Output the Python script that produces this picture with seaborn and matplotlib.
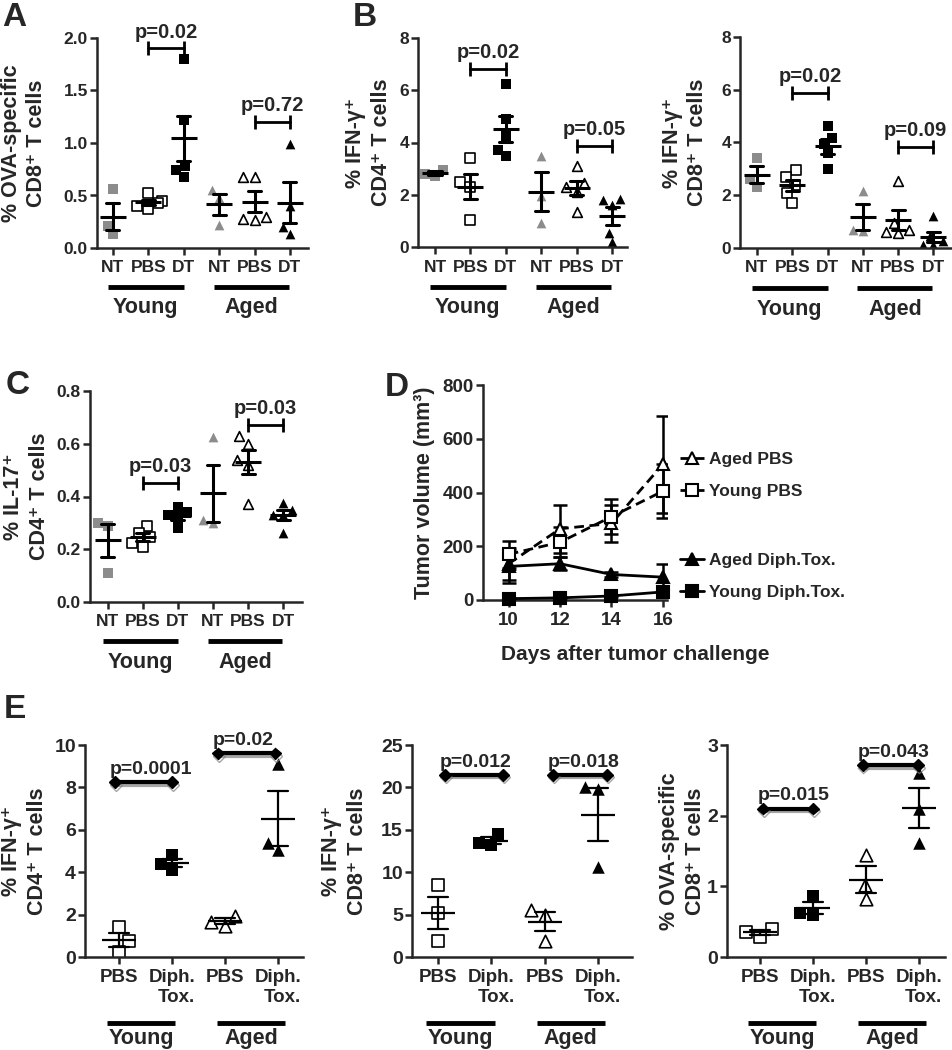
import numpy as np
import pandas as pd
import seaborn as sns
import matplotlib.pyplot as plt
import matplotlib.patheffects as pe

sns.set_style('ticks')
plt.rcParams['font.family'] = ['Liberation Sans', 'DejaVu Sans']
plt.rcParams['font.weight'] = 'bold'
plt.rcParams['axes.labelweight'] = 'bold'
plt.rcParams['axes.linewidth'] = 1.8

GRAY = '#8c8c8c'

# ---- panels A-C : NT / PBS / DT in young and aged mice
groups6 = ['Young NT', 'Young PBS', 'Young DT', 'Aged NT', 'Aged PBS', 'Aged DT']
ticks6 = ['NT', 'PBS', 'DT', 'NT', 'PBS', 'DT']
faces6 = [GRAY, 'white', 'black', GRAY, 'white', 'black']
marks6 = ['s', 's', 's', '^', '^', '^']

a_vals = [[0.56, 0.21, 0.13], [0.52, 0.45, 0.43, 0.40, 0.37], [1.80, 1.22, 0.78, 0.74, 0.68],
          [0.55, 0.48, 0.22], [0.68, 0.68, 0.30, 0.28, 0.27], [0.99, 0.40, 0.20, 0.13]]
b1_vals = [[2.95, 2.80, 2.72], [3.40, 2.50, 2.30, 1.05], [6.25, 4.90, 4.23, 3.47, 3.72],
           [3.50, 1.94, 0.92], [3.10, 2.45, 2.30, 2.10, 1.35], [1.85, 1.78, 1.60, 0.55, 0.20]]
b2_vals = [[3.40, 2.60, 2.33], [2.96, 2.71, 2.40, 2.08, 1.70], [4.62, 4.16, 3.94, 3.59, 2.98],
           [2.15, 0.70, 0.65], [2.55, 0.95, 0.70, 0.60, 0.55], [1.20, 0.45, 0.25, 0.10, 0.10]]
c_vals = [[0.30, 0.29, 0.11], [0.29, 0.26, 0.245, 0.225, 0.21], [0.36, 0.34, 0.33, 0.32, 0.28],
          [0.625, 0.31, 0.30], [0.63, 0.60, 0.54, 0.52, 0.37], [0.375, 0.35, 0.33, 0.33, 0.26]]

# ---- panel D : tumour growth (mean, SEM)
days = [10, 12, 14, 16]
d_aged_pbs = [135, 265, 285, 505]
d_aged_pbs_sem = [60, 90, 70, 180]
d_young_pbs = [170, 215, 310, 405]
d_young_pbs_sem = [50, 55, 65, 100]
d_aged_dt = [125, 135, 95, 85]
d_aged_dt_sem = [60, 25, 10, 50]
d_young_dt = [5, 8, 15, 30]
d_young_dt_sem = [3, 4, 5, 10]

# ---- panel E : PBS / Diph. Tox. in young and aged mice
groups4 = ['Young PBS', 'Young DT', 'Aged PBS', 'Aged DT']
ticks4 = ['PBS', 'Diph.\nTox.', 'PBS', 'Diph.\nTox.']
faces4 = ['white', 'black', 'white', 'black']
marks4 = ['s', 's', '^', '^']
e1_vals = [[1.40, 0.75, 0.25], [4.80, 4.40, 4.10], [1.95, 1.65, 1.45], [9.10, 5.40, 5.05]]
e2_vals = [[8.5, 5.2, 1.9], [14.5, 13.5, 13.2], [5.6, 5.0, 1.9], [20.0, 19.8, 10.6]]
e3_vals = [[0.40, 0.36, 0.29], [0.87, 0.62, 0.60], [1.45, 1.02, 0.82], [2.60, 2.10, 1.62]]


def dot_panel(ax, values, names, faces, marks, size, mean_size, cap, lw):
    df = pd.DataFrame({'group': np.repeat(names, [len(v) for v in values]),
                       'value': np.concatenate(values)})
    for name, fc, mk in zip(names, faces, marks):
        sub = df[df['group'] == name]
        sns.swarmplot(data=sub, x='group', y='value', order=names, marker=mk, color=fc,
                      edgecolor='black', linewidth=1.2 if fc == 'white' else 0,
                      size=size, ax=ax, zorder=2)
    sns.pointplot(data=df, x='group', y='value', order=names, errorbar='se', color='black',
                  linestyle='none', marker='_', markersize=mean_size, markeredgewidth=lw,
                  capsize=cap, err_kws={'linewidth': lw, 'zorder': 3}, ax=ax, zorder=3)


def style_axes(ax, ylim, yticks, xlim, ticklabels, xsize, ysize):
    ax.set_ylim(*ylim)
    ax.set_yticks(yticks)
    ax.set_xlim(*xlim)
    ax.set_xticks(range(len(ticklabels)))
    ax.set_xticklabels(ticklabels)
    ax.set_xlabel('')
    ax.tick_params(axis='both', length=5, width=1.8)
    ax.tick_params(axis='x', labelsize=xsize, pad=4)
    ax.tick_params(axis='y', labelsize=ysize, pad=1.5)
    sns.despine(ax=ax)


def bracket(ax, x1, x2, y, text):
    ax.plot([x1, x2], [y, y], color='black', lw=2, marker='|', markersize=10, mew=2)
    ax.annotate(text, ((x1 + x2) / 2, y), xytext=(0, 5), textcoords='offset points',
                ha='center', va='bottom', fontsize=14.5, annotation_clip=False)


def bracket_e(ax, x1, x2, y, text):
    ax.plot([x1, x2], [y, y], color='black', lw=3, marker='D', markersize=6, clip_on=False,
            path_effects=[pe.SimpleLineShadow(offset=(0.5, -2), shadow_color='gray', alpha=0.7),
                          pe.Normal()])
    ax.annotate(text, (x1, y), xytext=(-4, 3), textcoords='offset points',
                ha='left', va='bottom', fontsize=14, annotation_clip=False)


def group_lines(ax, spans, y_line, y_text, fs):
    trans = ax.get_xaxis_transform()
    for (a, b), lab in zip(spans, ['Young', 'Aged']):
        ax.plot([a, b], [y_line, y_line], color='black', lw=3.5, transform=trans,
                clip_on=False, solid_capstyle='butt')
        ax.text((a + b) / 2, y_text, lab, transform=trans, ha='center', va='top', fontsize=fs)


W, H = 952, 1050
fig = plt.figure(figsize=(9.52, 10.5), dpi=100)


def px_axes(left, right, top, bottom):
    return fig.add_axes([left / W, 1 - bottom / H, (right - left) / W, (bottom - top) / H])


spans6 = [(-0.15, 2.0), (2.85, 4.97)]

# A
ax = px_axes(97, 308, 38, 248)
dot_panel(ax, a_vals, groups6, faces6, marks6, 7, 19, 0.37, 2.2)
style_axes(ax, (0, 2.0), [0, 0.5, 1.0, 1.5, 2.0], (-0.45, 5.51), ticks6, 12.5, 12.5)
ax.yaxis.set_major_formatter(plt.FormatStrFormatter('%.1f'))
ax.set_ylabel('% OVA-specific\nCD8⁺ T cells', fontsize=15.5, linespacing=1.3)
ax.yaxis.set_label_coords(-0.235, 0.5)
bracket(ax, 1, 2, 1.9, 'p=0.02')
bracket(ax, 4, 5, 1.2, 'p=0.72')
group_lines(ax, spans6, -0.186, -0.235, 15.5)

# B left
ax = px_axes(418, 627, 38, 247)
dot_panel(ax, b1_vals, groups6, faces6, marks6, 7, 19, 0.37, 2.2)
style_axes(ax, (0, 8), [0, 2, 4, 6, 8], (-0.48, 5.42), ticks6, 12.5, 12.5)
ax.set_ylabel('% IFN-γ⁺\nCD4⁺ T cells', fontsize=15.5, linespacing=1.3)
ax.yaxis.set_label_coords(-0.125, 0.5)
bracket(ax, 1, 2, 6.8, 'p=0.02')
bracket(ax, 4, 5, 3.88, 'p=0.05')
group_lines(ax, spans6, -0.19, -0.24, 15.5)

# B right
ax = px_axes(740, 951, 37, 248)
dot_panel(ax, b2_vals, groups6, faces6, marks6, 7, 19, 0.37, 2.2)
style_axes(ax, (0, 8), [0, 2, 4, 6, 8], (-0.48, 5.5), ticks6, 12.5, 12.5)
ax.set_ylabel('% IFN-γ⁺\nCD8⁺ T cells', fontsize=15.5, linespacing=1.3)
ax.yaxis.set_label_coords(-0.15, 0.5)
bracket(ax, 1, 2, 5.86, 'p=0.02')
bracket(ax, 4, 5, 3.84, 'p=0.09')
group_lines(ax, spans6, -0.19, -0.24, 15.5)

# C
ax = px_axes(90, 302, 391, 602)
dot_panel(ax, c_vals, groups6, faces6, marks6, 7, 19, 0.37, 2.2)
style_axes(ax, (0, 0.8), [0, 0.2, 0.4, 0.6, 0.8], (-0.51, 5.54), ticks6, 12.5, 12.5)
ax.yaxis.set_major_formatter(plt.FormatStrFormatter('%.1f'))
ax.set_ylabel('% IL-17⁺\nCD4⁺ T cells', fontsize=15.5, linespacing=1.3)
ax.yaxis.set_label_coords(-0.19, 0.5)
bracket(ax, 1, 2, 0.45, 'p=0.03')
bracket(ax, 4, 5, 0.67, 'p=0.03')
group_lines(ax, spans6, -0.185, -0.235, 15.5)

# D
ax = px_axes(483, 667, 385, 600)
d_series = [('Aged PBS', d_aged_pbs, d_aged_pbs_sem, '^', 'white', (0, (3.5, 2))),
            ('Young PBS', d_young_pbs, d_young_pbs_sem, 's', 'white', (0, (3.5, 2))),
            ('Aged Diph.Tox.', d_aged_dt, d_aged_dt_sem, '^', 'black', '-'),
            ('Young Diph.Tox.', d_young_dt, d_young_dt_sem, 's', 'black', '-')]
for label, mean, sem, mk, fc, ls in d_series:
    sns.lineplot(x=days, y=mean, marker=mk, markersize=9, markerfacecolor=fc,
                 markeredgecolor='black', markeredgewidth=1.5, color='black',
                 linestyle=ls, linewidth=2, label=label, ax=ax, clip_on=False, zorder=3)
    ax.errorbar(days, mean, yerr=sem, fmt='none', ecolor='black', elinewidth=1.8,
                capsize=5, capthick=1.8, zorder=2)
ax.set_ylim(0, 800)
ax.set_yticks([0, 200, 400, 600, 800])
ax.set_xlim(9, 16.16)
ax.set_xticks(days)
ax.tick_params(axis='both', length=5, width=1.8, labelsize=13.5)
ax.tick_params(axis='y', pad=1.5)
sns.despine(ax=ax)
ax.set_ylabel('Tumor volume (mm³)', fontsize=15.5)
ax.yaxis.set_label_coords(-0.26, 0.5)
ax.set_xlabel('Days after tumor challenge', fontsize=15)
ax.xaxis.set_label_coords(0.826, -0.21)
handles, labels = ax.get_legend_handles_labels()
leg_kw = dict(loc='center left', frameon=False, fontsize=12.5, handlelength=1.4,
              handletextpad=0.25, labelspacing=0.95, borderpad=0, borderaxespad=0)
leg1 = ax.legend(handles[:2], labels[:2], bbox_to_anchor=(1.07, 0.58), **leg_kw)
ax.add_artist(leg1)
ax.legend(handles[2:], labels[2:], bbox_to_anchor=(1.07, 0.11), **leg_kw)

# E
spans4 = [(-0.23, 1.06), (1.85, 3.13)]
e_panels = [
    ((85, 303), e1_vals, (0, 10), [0, 2, 4, 6, 8, 10], (-0.64, 3.47), '% IFN-γ⁺\nCD4⁺ T cells', -0.17,
     [(-0.07, 1.0, 8.25, 'p=0.0001'), (1.87, 2.95, 9.6, 'p=0.02')]),
    ((412, 632), e2_vals, (0, 25), [0, 5, 10, 15, 20, 25], (-0.49, 3.64), '% IFN-γ⁺\nCD8⁺ T cells', -0.2,
     [(0.13, 1.22, 21.5, 'p=0.012'), (2.16, 3.17, 21.5, 'p=0.018')]),
    ((727, 945), e3_vals, (0, 3), [0, 1, 2, 3], (-0.62, 3.49), '% OVA-specific\nCD8⁺ T cells', -0.095,
     [(0.06, 1.0, 2.1, 'p=0.015'), (1.94, 2.98, 2.72, 'p=0.043')]),
]
for (l, r), vals, ylim, yt, xlim, ylab, lx, brs in e_panels:
    ax = px_axes(l, r, 745, 957)
    dot_panel(ax, vals, groups4, faces4, marks4, 9, 24, 0.38, 1.6)
    style_axes(ax, ylim, yt, xlim, ticks4, 13.5, 14)
    for t in ax.get_xticklabels():
        t.set_multialignment('right')
    ax.set_ylabel(ylab, fontsize=15.5, linespacing=1.3)
    ax.yaxis.set_label_coords(lx, 0.5)
    for x1, x2, y, txt in brs:
        bracket_e(ax, x1, x2, y, txt)
    group_lines(ax, spans4, -0.31, -0.335, 15.5)

for letter, x, y in [('A', 2, 2), ('B', 353, 2), ('C', 6, 370), ('D', 385, 372), ('E', 4, 694)]:
    fig.text(x / W, 1 - y / H, letter, fontsize=24, fontweight='bold', va='top', ha='left')

fig.savefig('out.png', dpi=100)
